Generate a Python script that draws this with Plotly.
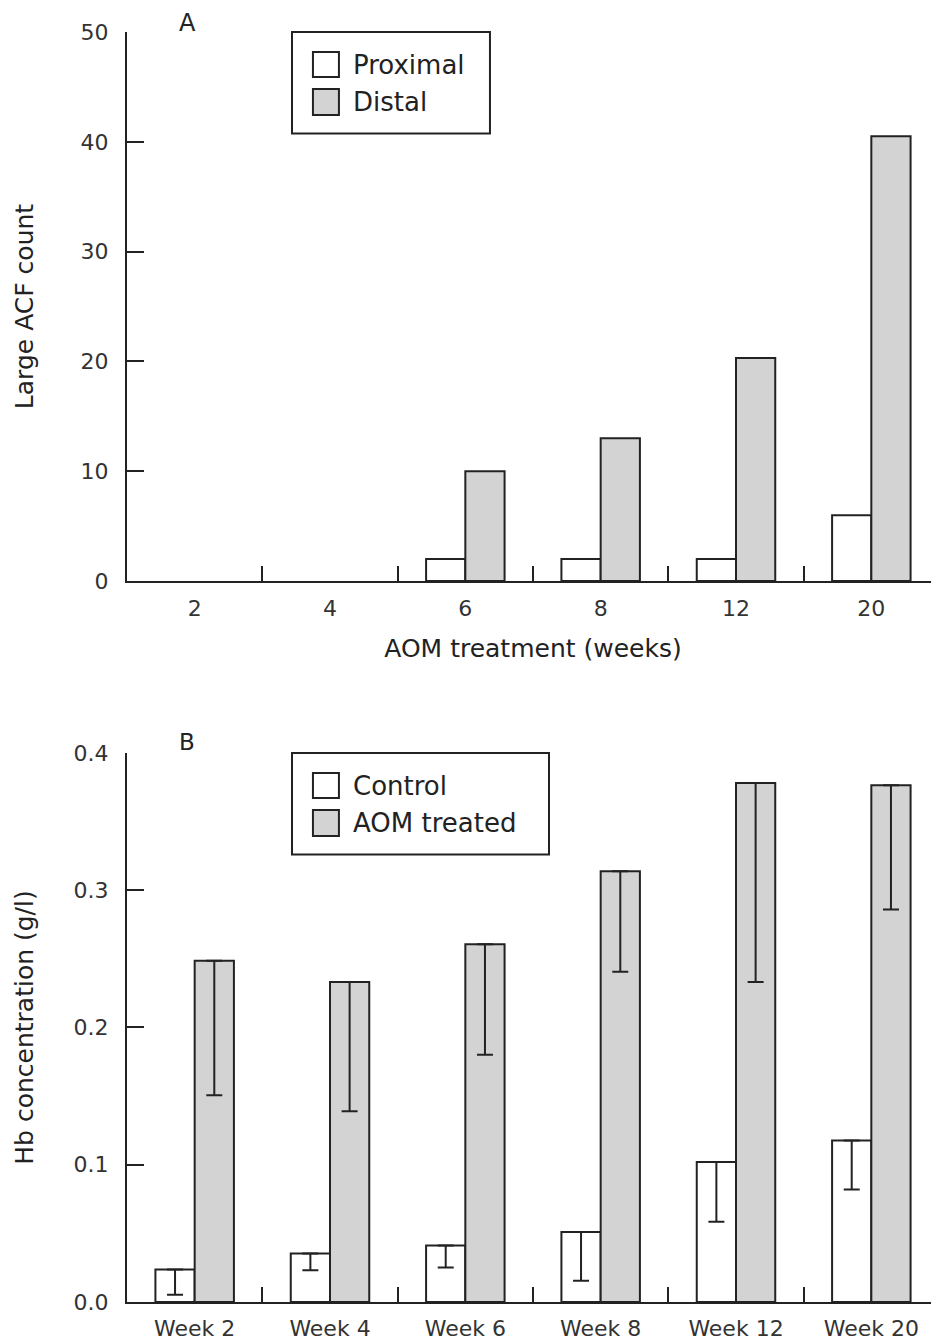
import plotly.graph_objects as go

# ---------------- data ----------------
weeks_a = ["2", "4", "6", "8", "12", "20"]
proximal = [0, 0, 2, 2, 2, 6]
distal = [0, 0, 10, 13, 20.3, 40.5]

weeks_b = ["Week 2", "Week 4", "Week 6", "Week 8", "Week 12", "Week 20"]
control = [0.0236, 0.0353, 0.0412, 0.051, 0.102, 0.1176]
control_err = [0.0183, 0.0121, 0.0161, 0.0356, 0.0435, 0.0357]
aom = [0.2487, 0.2331, 0.2606, 0.3138, 0.3782, 0.3765]
aom_err = [0.098, 0.0941, 0.0804, 0.0731, 0.1451, 0.0905]

names_a = ["Proximal", "Distal"]
names_b = ["Control", "AOM treated"]
fills = ["#ffffff", "#d3d3d3"]

yticks_a = [0, 10, 20, 30, 40, 50]
yticks_b = [0.0, 0.1, 0.2, 0.3, 0.4]
yticklabels_b = ["0.0", "0.1", "0.2", "0.3", "0.4"]

INK = "#222222"
FONT = "DejaVu Sans"

fig = go.Figure()

for name, vals, fc in zip(names_a, [proximal, distal], fills):
    fig.add_trace(go.Bar(
        x=weeks_a, y=vals, name=name, xaxis="x", yaxis="y",
        marker=dict(color=fc, line=dict(color=INK, width=[2 if v > 0 else 0 for v in vals])),
        showlegend=False,
    ))

for name, vals, errs, fc in zip(names_b, [control, aom], [control_err, aom_err], fills):
    fig.add_trace(go.Bar(
        x=weeks_b, y=vals, name=name, xaxis="x2", yaxis="y2",
        marker=dict(color=fc, line=dict(color=INK, width=2)),
        error_y=dict(type="data", symmetric=False, array=[0] * len(errs),
                     arrayminus=errs, color=INK, thickness=2, width=8),
        showlegend=False,
    ))

axis_common = dict(
    showline=True, linecolor=INK, linewidth=2, showgrid=False, zeroline=False,
    ticks="inside", tickcolor=INK, tickwidth=2,
    tickfont=dict(family=FONT, size=22, color="#333333"),
)

fig.update_layout(
    width=931, height=1335,
    margin=dict(l=119, r=0, t=24, b=41),
    paper_bgcolor="white", plot_bgcolor="white",
    barmode="group", bargap=0.42, bargroupgap=0,
    font=dict(family=FONT, color=INK),
    xaxis=dict(domain=[0, 1], anchor="y", tickson="boundaries", ticklen=15,
               ticklabelstandoff=7,
               title=dict(text="AOM treatment (weeks)", standoff=19,
                          font=dict(family=FONT, size=25, color=INK)),
               **axis_common),
    yaxis=dict(domain=[0.5677, 1.0], anchor="x", range=[0, 50], tickvals=yticks_a,
               ticklen=17, ticklabelstandoff=12,
               title=dict(text="Large ACF count", standoff=40,
                          font=dict(family=FONT, size=25, color=INK)),
               **axis_common),
    xaxis2=dict(domain=[0, 1], anchor="y2", tickson="boundaries", ticklen=15,
                ticklabelstandoff=6,
                **axis_common),
    yaxis2=dict(domain=[0, 0.4323], anchor="x2", range=[0, 0.4], tickvals=yticks_b,
                ticktext=yticklabels_b, ticklen=17, ticklabelstandoff=12,
                title=dict(text="Hb concentration (g/l)", standoff=33,
                           font=dict(family=FONT, size=25, color=INK)),
                **axis_common),
)

# --- manual legends (boxes, swatches, labels) and panel letters ---
def add_legend(xr, yr, names, box_right):
    fig.add_shape(type="rect", xref=xr, yref=yr, x0=0.2032, x1=box_right, y0=0.815, y1=1.0,
                  line=dict(color=INK, width=2), fillcolor="rgba(0,0,0,0)")
    rows = [(0.9636, 0.918, 0.940), (0.896, 0.849, 0.872)]
    for (y1, y0, yc), nm, fc in zip(rows, names, fills):
        fig.add_shape(type="rect", xref=xr, yref=yr, x0=0.229, x1=0.261, y0=y0, y1=y1,
                      line=dict(color=INK, width=2), fillcolor=fc)
        fig.add_annotation(xref=xr, yref=yr, x=0.2759, y=yc, text=nm, showarrow=False,
                           xanchor="left", yanchor="middle",
                           font=dict(family=FONT, size=26, color=INK))

add_legend("x domain", "y domain", names_a, 0.447)
add_legend("x2 domain", "y2 domain", names_b, 0.5197)

for xr, yr, letter, size, yy in [("x domain", "y domain", "A", 24, 1.016),
                                 ("x2 domain", "y2 domain", "B", 23, 1.02)]:
    fig.add_annotation(xref=xr, yref=yr, x=0.0739, y=yy, text=letter, showarrow=False,
                       xanchor="center", yanchor="middle",
                       font=dict(family=FONT, size=size, color=INK))

fig.write_html("out.html")
